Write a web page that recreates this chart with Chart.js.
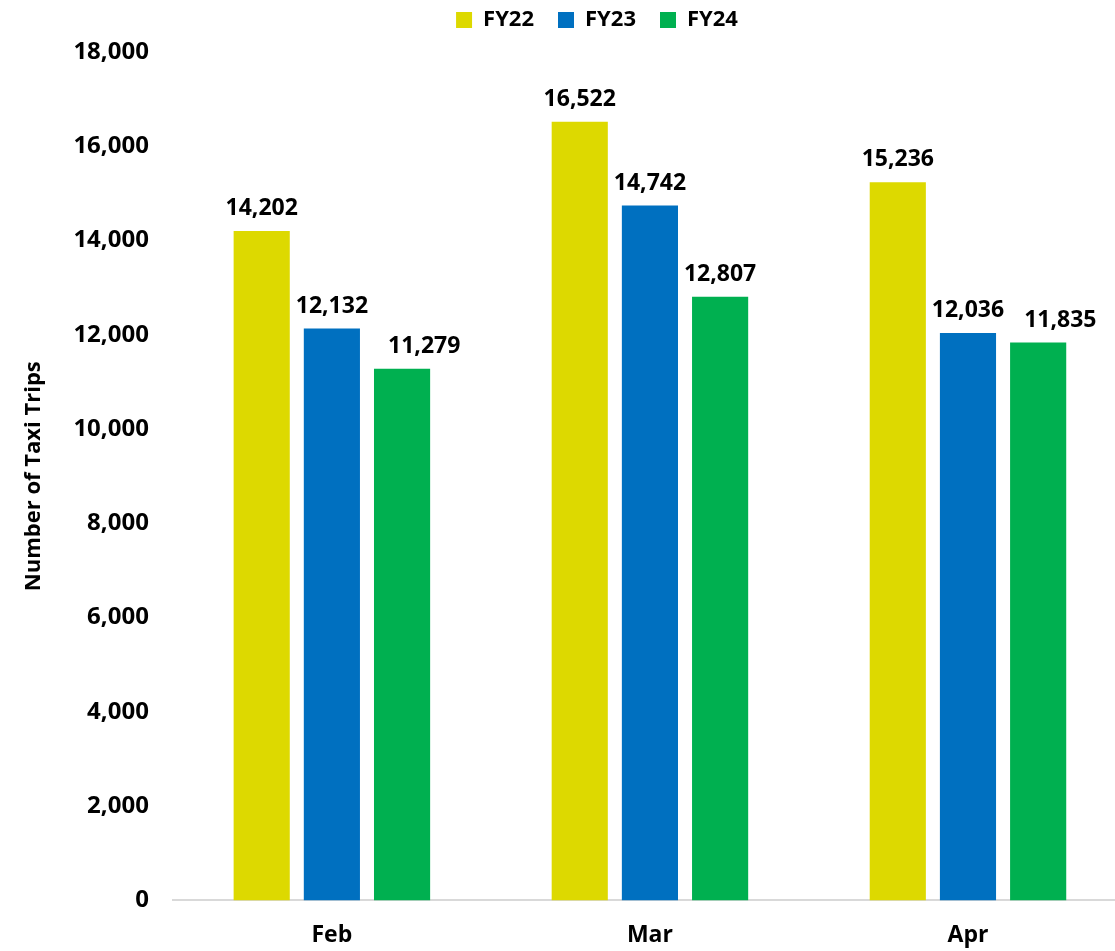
<!DOCTYPE html>
<html>
<head>
<meta charset="utf-8">
<script src="https://cdn.jsdelivr.net/npm/chart.js@4/dist/chart.umd.min.js"></script>
<style>
  html, body { margin: 0; padding: 0; background: #fff; overflow: hidden; }
  #wrap { position: absolute; left: 0; top: 0; width: 1127px; height: 976px; }
</style>
</head>
<body>
<div id="wrap"><canvas id="chart"></canvas></div>
<script>
const months = ["Feb", "Mar", "Apr"];
const seriesNames = ["FY22", "FY23", "FY24"];
const fy22 = [14202, 16522, 15236];
const fy23 = [12132, 14742, 12036];
const fy24 = [11279, 12807, 11835];
const yTicks = [0, 2000, 4000, 6000, 8000, 10000, 12000, 14000, 16000, 18000];

const colors = ["#DDD900", "#0070C0", "#00B050"];
const fontFamily = "'Open Sans', sans-serif";

// value labels above bars, nudged right when crowding the neighbour's label
const valueLabels = {
  id: "valueLabels",
  afterDatasetsDraw(chart) {
    const ctx = chart.ctx;
    ctx.save();
    ctx.font = `bold 23px ${fontFamily}`;
    ctx.fillStyle = "#000";
    ctx.textAlign = "left";
    ctx.textBaseline = "alphabetic";
    months.forEach((_, i) => {
      let prev = null;
      chart.data.datasets.forEach((ds, d) => {
        const bar = chart.getDatasetMeta(d).data[i];
        const text = ds.data[i].toLocaleString("en-US");
        const w = ctx.measureText(text).width;
        let x = bar.x - w / 2;
        const y = bar.y - 16;
        if (prev && Math.abs(y - prev.y) < 50 && x < prev.right + 20) {
          x = prev.right + 20;
        }
        ctx.fillText(text, x, y);
        prev = { right: x + w, y };
      });
    });
    ctx.restore();
  },
};

const shiftLegend = {
  id: "shiftLegend",
  afterLayout(chart) {
    chart.legend.left += 23;
    chart.legend.right += 23;
    chart.legend.top -= 11;
    chart.legend.bottom -= 11;
  },
};

new Chart(document.getElementById("chart"), {
  type: "bar",
  data: {
    labels: months,
    datasets: [fy22, fy23, fy24].map((values, i) => ({
      label: seriesNames[i],
      data: values,
      backgroundColor: colors[i],
      borderWidth: 0,
      categoryPercentage: 0.662,
      barPercentage: 0.8,
    })),
  },
  options: {
    animation: false,
    responsive: true,
    maintainAspectRatio: false,
    layout: { padding: { left: 21, right: 0, top: -4, bottom: 6 } },
    scales: {
      x: {
        grid: { display: false, drawTicks: false },
        border: { display: true, color: "#D9D9D9", width: 2 },
        ticks: {
          color: "#000",
          padding: 21,
          font: { family: fontFamily, size: 23, weight: "bold" },
        },
      },
      y: {
        min: 0,
        max: 18000,
        afterBuildTicks: (scale) => {
          scale.ticks = yTicks.map((value) => ({ value }));
        },
        grid: { display: false, drawTicks: false },
        border: { display: false },
        ticks: {
          color: "#000",
          padding: 24,
          font: { family: fontFamily, size: 24, weight: "bold" },
          callback: (value) => value.toLocaleString("en-US"),
        },
        title: {
          display: true,
          text: "Number of Taxi Trips",
          color: "#000",
          padding: { top: 0, bottom: 2 },
          font: { family: fontFamily, size: 22, weight: "bold" },
        },
      },
    },
    plugins: {
      legend: {
        position: "top",
        labels: {
          color: "#000",
          boxWidth: 16,
          boxHeight: 16,
          padding: 24,
          font: { family: fontFamily, size: 22, weight: "bold" },
        },
      },
      tooltip: { enabled: false },
    },
  },
  plugins: [valueLabels, shiftLegend],
});
</script>
</body>
</html>
